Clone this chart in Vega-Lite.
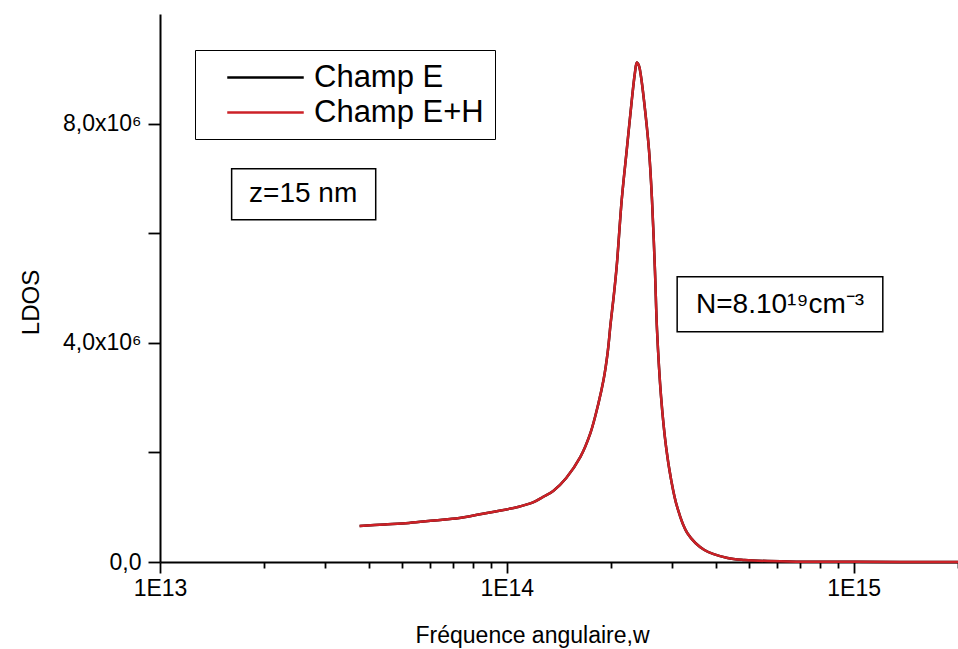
{
  "$schema": "https://vega.github.io/schema/vega-lite/v6.json",
  "width": 798,
  "height": 548,
  "autosize": {"type": "none"},
  "padding": {"left": 160, "top": 14, "right": 0, "bottom": 87},
  "background": "white",
  "config": {"view": {"stroke": null}, "font": "Liberation Sans"},
  "datasets": {
    "curve": [
      {"w": 3.763e13, "ldos": 657540},
      {"w": 4.450e13, "ldos": 684900},
      {"w": 5.224e13, "ldos": 712300},
      {"w": 6.176e13, "ldos": 758000},
      {"w": 7.302e13, "ldos": 803700},
      {"w": 9.107e13, "ldos": 913300},
      {"w": 1.0765e14, "ldos": 1004600},
      {"w": 1.190e14, "ldos": 1086800},
      {"w": 1.273e14, "ldos": 1187200},
      {"w": 1.361e14, "ldos": 1296800},
      {"w": 1.484e14, "ldos": 1534300},
      {"w": 1.630e14, "ldos": 1917800},
      {"w": 1.743e14, "ldos": 2356200},
      {"w": 1.839e14, "ldos": 2904100},
      {"w": 1.901e14, "ldos": 3324200},
      {"w": 1.953e14, "ldos": 3817400},
      {"w": 1.993e14, "ldos": 4365300},
      {"w": 2.033e14, "ldos": 4840200},
      {"w": 2.074e14, "ldos": 5388200},
      {"w": 2.145e14, "ldos": 6611900},
      {"w": 2.218e14, "ldos": 7525200},
      {"w": 2.294e14, "ldos": 8438400},
      {"w": 2.340e14, "ldos": 8913300},
      {"w": 2.371e14, "ldos": 9114200},
      {"w": 2.403e14, "ldos": 9059400},
      {"w": 2.435e14, "ldos": 8876800},
      {"w": 2.485e14, "ldos": 8438400},
      {"w": 2.570e14, "ldos": 7525200},
      {"w": 2.622e14, "ldos": 6611900},
      {"w": 2.675e14, "ldos": 5296900},
      {"w": 2.711e14, "ldos": 4237500},
      {"w": 2.785e14, "ldos": 3013700},
      {"w": 2.879e14, "ldos": 2100500},
      {"w": 2.978e14, "ldos": 1497700},
      {"w": 3.099e14, "ldos": 1004600},
      {"w": 3.314e14, "ldos": 529700},
      {"w": 3.714e14, "ldos": 219200},
      {"w": 4.331e14, "ldos": 73100},
      {"w": 4.853e14, "ldos": 36500},
      {"w": 6.471e14, "ldos": 9100},
      {"w": 1.013e15, "ldos": 3000},
      {"w": 2.0e15, "ldos": 1000}
    ],
    "boxes": [
      {"xa": 1.609e13, "xb": 4.188e13, "ya": 6247000, "yb": 7178000},
      {"xa": 3.099e14, "xb": 1.214e15, "ya": 4201000, "yb": 5206000}
    ],
    "notes": [
      {"x": 2.587e13, "y": 6720000, "label": "z=15 nm"},
      {"x": 6.135e14, "y": 4694000, "label": "N=8.10¹⁹cm⁻³"}
    ]
  },
  "layer": [
    {
      "data": {"name": "curve"},
      "mark": {"type": "line", "strokeWidth": 2.5, "interpolate": "catmull-rom"},
      "encoding": {
        "x": {
          "field": "w", "type": "quantitative", "title": "Fréquence angulaire,w",
          "scale": {"type": "log", "domain": [1e13, 2e15], "nice": false},
          "axis": {
            "values": [1e13, 2e13, 3e13, 4e13, 5e13, 6e13, 7e13, 8e13, 9e13, 1e14, 2e14, 3e14, 4e14, 5e14, 6e14, 7e14, 8e14, 9e14, 1e15, 2e15],
            "labelExpr": "datum.value == 1e13 ? '1E13' : datum.value == 1e14 ? '1E14' : datum.value == 1e15 ? '1E15' : ''",
            "tickSize": {"condition": {"test": "datum.value == 1e13 || datum.value == 1e14 || datum.value == 1e15", "value": 11}, "value": 6},
            "tickWidth": 1.8, "tickColor": "black", "domainColor": "black", "domainWidth": 2,
            "grid": false, "labelFontSize": 23, "labelColor": "black", "labelPadding": 4, "labelFlush": false,
            "labelOverlap": false, "labelFont": "Liberation Sans",
            "titleFontSize": 23, "titleFontWeight": "normal", "titleColor": "black", "titleFont": "Liberation Sans",
            "titleX": 372, "titleY": 80, "titleBaseline": "alphabetic", "titleAnchor": "middle"
          }
        },
        "y": {
          "field": "ldos", "type": "quantitative", "title": "LDOS",
          "scale": {"domain": [0, 10000000], "nice": false},
          "axis": {
            "values": [0, 2000000, 4000000, 6000000, 8000000],
            "labelExpr": "datum.value == 0 ? '0,0' : datum.value == 4000000 ? '4,0x10⁶' : datum.value == 8000000 ? '8,0x10⁶' : ''",
            "tickSize": 12, "tickWidth": 1.8, "tickColor": "black", "domainColor": "black", "domainWidth": 2,
            "grid": false, "labelFontSize": 23, "labelColor": "black", "labelPadding": 7, "labelFlush": false,
            "labelOverlap": false, "labelFont": "Liberation Sans",
            "titleFontSize": 24, "titleFontWeight": "normal", "titleColor": "black", "titleFont": "Liberation Sans",
            "titleX": -122, "titleY": 288, "titleBaseline": "alphabetic", "titleAnchor": "middle", "titleAngle": -90
          }
        },
        "color": {
          "datum": "Champ E",
          "scale": {"domain": ["Champ E", "Champ E+H"], "range": ["black", "#cc2127"]},
          "legend": {
            "orient": "none", "legendX": 35, "legendY": 36, "title": null,
            "strokeColor": "black", "fillColor": "white", "padding": 11,
            "symbolType": "M-2.55,0H2.55", "symbolSize": 900, "symbolStrokeWidth": 2.5, "symbolOffset": 43,
            "labelFontSize": 31, "labelFont": "Liberation Sans", "labelColor": "black", "labelOffset": 32,
            "labelLimit": 400, "rowPadding": 3
          }
        }
      }
    },
    {
      "data": {"name": "curve"},
      "mark": {"type": "line", "strokeWidth": 2.5, "interpolate": "catmull-rom"},
      "encoding": {
        "x": {"field": "w", "type": "quantitative", "title": "Fréquence angulaire,w"},
        "y": {"field": "ldos", "type": "quantitative", "title": "LDOS"},
        "color": {"datum": "Champ E+H"}
      }
    },
    {
      "mark": {"type": "rule", "color": "black", "strokeWidth": 2},
      "encoding": {"y": {"datum": 10000000}}
    },
    {
      "data": {"name": "boxes"},
      "mark": {"type": "rect", "fill": "white", "stroke": "black", "strokeWidth": 1.5},
      "encoding": {
        "x": {"field": "xa", "type": "quantitative", "title": "Fréquence angulaire,w"},
        "x2": {"field": "xb"},
        "y": {"field": "ya", "type": "quantitative", "title": "LDOS"},
        "y2": {"field": "yb"}
      }
    },
    {
      "data": {"name": "notes"},
      "mark": {"type": "text", "fontSize": 28, "font": "Liberation Sans", "color": "black", "align": "center", "baseline": "middle"},
      "encoding": {
        "x": {"field": "x", "type": "quantitative", "title": "Fréquence angulaire,w"},
        "y": {"field": "y", "type": "quantitative", "title": "LDOS"},
        "text": {"field": "label"}
      }
    }
  ]
}
